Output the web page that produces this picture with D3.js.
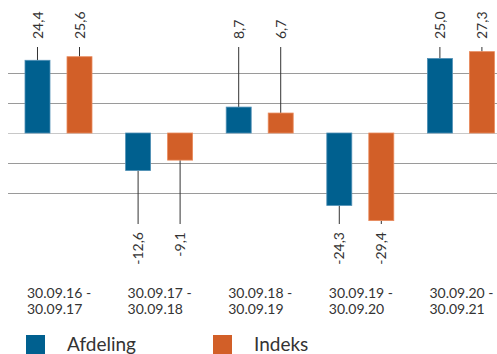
<!DOCTYPE html>
<html>
<head>
<meta charset="utf-8">
<script src="https://cdn.jsdelivr.net/npm/d3@7"></script>
<style>
  body { margin: 0; background: #fff; }
  svg { display: block; font-family: Lato, "Open Sans", sans-serif; }
</style>
</head>
<body>
<script>
// Afdeling vs Indeks afkast, grouped bar chart

const w = 497;
const h = 354;

// data
const periods = [
  ["30.09.16 -", "30.09.17"],
  ["30.09.17 -", "30.09.18"],
  ["30.09.18 -", "30.09.19"],
  ["30.09.19 -", "30.09.20"],
  ["30.09.20 -", "30.09.21"]
];
const seriesNames = ["Afdeling", "Indeks"];
const afdeling = [24.4, -12.6, 8.7, -24.3, 25.0];
const indeks = [25.6, -9.1, 6.7, -29.4, 27.3];
const gridValues = [20, 10, 0, -10, -20];

const colors = { Afdeling: "#00608f", Indeks: "#d25f28" };
const strokes = { Afdeling: "#4f8fb5", Indeks: "#e98a5c" };

const rows = periods.map((p, i) => ({
  key: p.join(" "),
  label: p,
  values: [
    { series: "Afdeling", value: afdeling[i] },
    { series: "Indeks", value: indeks[i] }
  ]
}));

// danish decimal comma, plain hyphen for minus
const fmt = v => d3.format(".1f")(v).replace(".", ",").replace("\u2212", "-");

// scales
const x0 = d3.scaleBand()
  .domain(rows.map(d => d.key))
  .range([8, 511]);

const x1 = d3.scaleBand()
  .domain(seriesNames)
  .range([17, 84])
  .paddingInner(0.405);

const y = d3.scaleLinear()
  .domain([-30, 30])
  .range([222.4, 43.6]);

const labelTop = 47;     // leader line end for positive values
const labelBottom = 224; // leader line end for negative values

const svg = d3.select("body").append("svg")
  .attr("width", w)
  .attr("height", h);

// gridlines
svg.append("g")
  .selectAll("line")
  .data(gridValues)
  .join("line")
  .attr("x1", 8)
  .attr("x2", w)
  .attr("y1", d => Math.round(y(d)) + 0.5)
  .attr("y2", d => Math.round(y(d)) + 0.5)
  .attr("stroke", d => d === 0 ? "#c8c8c8" : "#9a9a9a")
  .attr("stroke-width", 1);

const groups = svg.append("g")
  .selectAll("g")
  .data(rows)
  .join("g")
  .attr("transform", d => `translate(${x0(d.key)},0)`);

// leader lines
groups.selectAll("line.leader")
  .data(d => d.values)
  .join("line")
  .attr("class", "leader")
  .attr("x1", d => x1(d.series) + x1.bandwidth() / 2)
  .attr("x2", d => x1(d.series) + x1.bandwidth() / 2)
  .attr("y1", d => y(d.value))
  .attr("y2", d => d.value >= 0 ? labelTop : labelBottom)
  .attr("stroke", "#333")
  .attr("stroke-width", 1);

// bars
groups.selectAll("rect")
  .data(d => d.values)
  .join("rect")
  .attr("x", d => x1(d.series))
  .attr("y", d => y(Math.max(0, d.value)))
  .attr("width", x1.bandwidth())
  .attr("height", d => Math.abs(y(d.value) - y(0)))
  .attr("fill", d => colors[d.series])
  .attr("stroke", d => strokes[d.series])
  .attr("stroke-width", 0.8);

// value labels
groups.selectAll("text.value")
  .data(d => d.values)
  .join("text")
  .attr("class", "value")
  .attr("transform", d => {
    const cx = x1(d.series) + x1.bandwidth() / 2;
    const cy = d.value >= 0 ? labelTop - 8 : labelBottom + 8;
    return `translate(${cx},${cy}) rotate(-90)`;
  })
  .attr("dy", "0.36em")
  .attr("text-anchor", d => d.value >= 0 ? "start" : "end")
  .attr("font-size", 14)
  .attr("fill", "#333")
  .text(d => fmt(d.value));

// category labels
const cat = groups.append("text")
  .attr("x", x1("Afdeling") + 2)
  .attr("y", 298)
  .attr("font-size", 14)
  .attr("fill", "#333");
cat.append("tspan").attr("x", x1("Afdeling") + 2).text(d => d.label[0]);
cat.append("tspan").attr("x", x1("Afdeling") + 2).attr("dy", 15.5).text(d => d.label[1]);

// legend
const legend = svg.append("g")
  .selectAll("g")
  .data(seriesNames)
  .join("g")
  .attr("transform", (d, i) => `translate(${26 + i * 187},335)`);

legend.append("rect")
  .attr("width", 19)
  .attr("height", 20)
  .attr("fill", d => colors[d]);

legend.append("text")
  .attr("x", 41)
  .attr("y", 16)
  .attr("font-size", 19)
  .attr("fill", "#333")
  .text(d => d);
</script>
</body>
</html>
